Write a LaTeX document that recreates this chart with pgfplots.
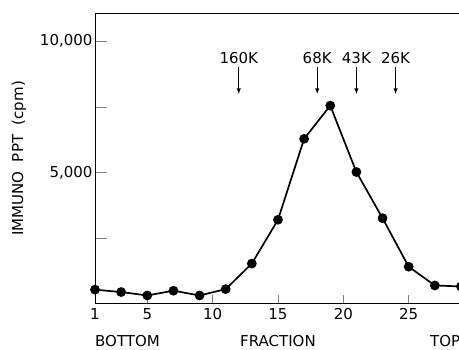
\documentclass[border=0pt]{standalone}
\usepackage{pgfplots}
\pgfplotsset{compat=1.18}
\usepackage{fontspec}
\setmainfont{DejaVu Sans}
\newcommand{\lf}{\fontsize{15bp}{17bp}\selectfont}
\begin{document}
\begin{tikzpicture}[font=\lf]
\begin{axis}[
  name=ax,
  scale only axis,
  width=364bp, height=289bp,
  xmin=1, xmax=28.85,
  ymin=64, ymax=11023,
  scaled y ticks=false,
  axis x line=box, axis y line=left,
  y axis line style={-}, x axis line style={-},
  axis line style={line width=1pt},
  tick align=inside,
  xtick pos=left, ytick pos=left,
  xtick={1,5,10,15,20,25},
  ytick={2500,5000,7500,10000},
  yticklabels={{},{5,000},{},{10,000}},
  xtick style={/pgfplots/major tick length=8bp, line width=0.8pt},
  ytick style={/pgfplots/major tick length=12bp, line width=0.8pt},
  /pgf/number format/assume math mode=true,
  tick label style={font=\lf},
  xticklabel style={yshift=-2bp},
  yticklabel style={xshift=1bp},
  clip=false,
]
\addplot[black, line width=1.7pt, mark=*, mark size=4bp, mark options={fill=black}]
coordinates {
(1,570) (3,480) (5,350) (7,530) (9,350) (11,590) (13,1560) (15,3220)
(17,6290) (19,7550) (21,5030) (23,3280) (25,1440) (27,730) (29,690)
};
\node at (axis cs:12,9356) {160K};
\node at (axis cs:18,9356) {68K};
\node at (axis cs:21,9356) {43K};
\node at (axis cs:24,9356) {26K};
\draw[-latex, line width=0.9pt] (axis cs:12,9027) -- (axis cs:12,7992);
\draw[-latex, line width=0.9pt] (axis cs:18,9027) -- (axis cs:18,7992);
\draw[-latex, line width=0.9pt] (axis cs:21,9027) -- (axis cs:21,7992);
\draw[-latex, line width=0.9pt] (axis cs:24,9027) -- (axis cs:24,7992);
\end{axis}
\node[anchor=west, inner sep=0pt] at ([yshift=-38bp]ax.south west) {BOTTOM};
\node[inner sep=0pt] at ([xshift=183bp,yshift=-38bp]ax.south west) {FRACTION};
\node[anchor=west, inner sep=0pt] at ([xshift=335bp,yshift=-38bp]ax.south west) {TOP};
\node[rotate=90, inner sep=0pt] at ([xshift=-76bp]ax.west) {IMMUNO\ \ PPT\ \ (cpm)};
\pgfresetboundingbox
\path[use as bounding box] ([xshift=-95bp,yshift=-47bp]ax.south west) rectangle ([yshift=14bp]ax.north east);
\end{tikzpicture}
\end{document}
